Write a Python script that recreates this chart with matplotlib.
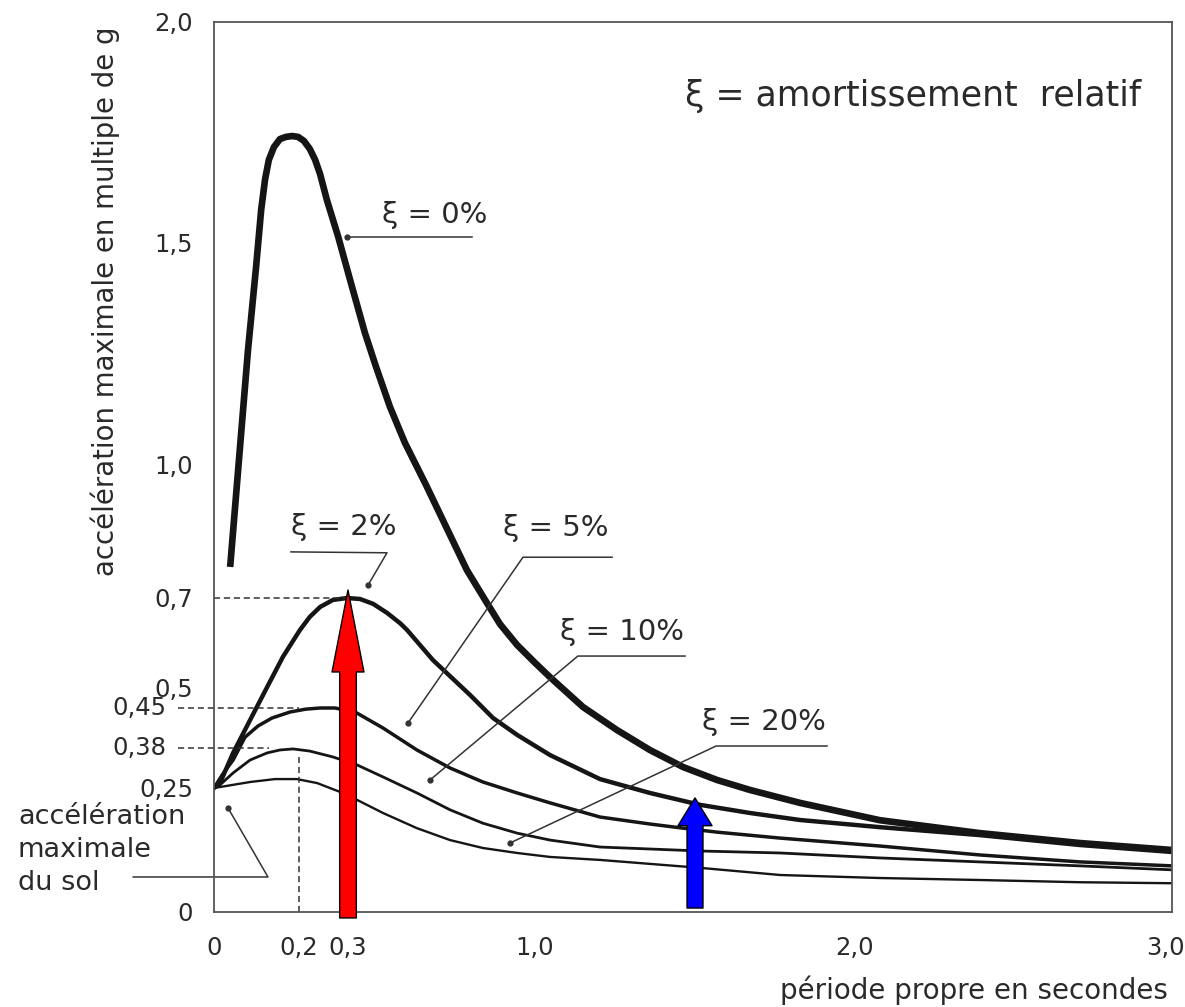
import numpy as np
import matplotlib
matplotlib.use("Agg")
import matplotlib.pyplot as plt

plt.rcParams['font.family'] = ['DejaVu Sans']

# response spectrum, period T (s) vs max acceleration (g), one curve per damping ratio
t_0 = [0.038, 0.080, 0.099, 0.111, 0.120, 0.129, 0.141, 0.155, 0.169, 0.184, 0.198, 0.210, 0.222,
       0.233, 0.243, 0.257, 0.280, 0.311, 0.3636, 0.405, 0.457, 0.513, 0.592, 0.678, 0.745, 0.820,
       0.869, 0.933, 1.0, 1.047, 1.150, 1.256, 1.359, 1.463, 1.569, 1.672, 1.828, 2.079, 2.394,
       2.710, 3.0]
a_0 = [0.770, 1.259, 1.446, 1.575, 1.643, 1.688, 1.717, 1.735, 1.740, 1.742, 1.740, 1.731, 1.713,
       1.688, 1.656, 1.597, 1.514, 1.410, 1.297, 1.221, 1.131, 1.050, 0.955, 0.847, 0.763, 0.689,
       0.642, 0.5956, 0.556, 0.524, 0.4525, 0.4115, 0.3735, 0.318, 0.276, 0.246, 0.220, 0.185, 0.159,
       0.139, 0.125]

t_2 = [0, 0.014, 0.045, 0.085, 0.125, 0.162, 0.202, 0.222, 0.243, 0.269, 0.298, 0.345, 0.394,
       0.446, 0.495, 0.521, 0.618, 0.757, 0.843, 0.933, 1.047, 1.203, 1.359, 1.516, 1.672, 1.828,
       2.079, 2.394, 2.710, 3.0]
a_2 = [0.25, 0.266, 0.364, 0.429, 0.502, 0.569, 0.629, 0.658, 0.680, 0.6956, 0.70, 0.6978, 0.687,
       0.667, 0.644, 0.629, 0.562, 0.4825, 0.4325, 0.403, 0.357, 0.279, 0.240, 0.216, 0.1996, 0.1855,
       0.171, 0.155, 0.135, 0.121]

t_5 = [0, 0.019, 0.045, 0.073, 0.1035, 0.1365, 0.179, 0.214, 0.243, 0.273, 0.3075, 0.334, 0.431,
       0.558, 0.682, 0.805, 0.933, 1.047, 1.203, 1.359, 1.463, 1.569, 1.766, 2.079, 2.394, 2.710, 3.0]
a_5 = [0.25, 0.292, 0.341, 0.399, 0.4185, 0.4325, 0.443, 0.448, 0.45, 0.45, 0.445, 0.441, 0.415,
       0.3735, 0.315, 0.2695, 0.240, 0.220, 0.1915, 0.1774, 0.169, 0.161, 0.149, 0.133, 0.115, 0.101,
       0.093]

t_10 = [0, 0.014, 0.045, 0.085, 0.125, 0.155, 0.186, 0.222, 0.269, 0.334, 0.431, 0.558, 0.682,
        0.805, 0.933, 1.047, 1.203, 1.516, 1.766, 2.079, 2.394, 2.710, 3.0]
a_10 = [0.25, 0.26, 0.299, 0.341, 0.364, 0.3735, 0.377, 0.370, 0.351, 0.325, 0.286, 0.240, 0.206,
        0.179, 0.159, 0.145, 0.131, 0.123, 0.119, 0.109, 0.101, 0.093, 0.085]

t_20 = [0, 0.085, 0.1435, 0.195, 0.237, 0.284, 0.334, 0.431, 0.558, 0.682, 0.805, 0.933, 1.047,
        1.203, 1.516, 1.766, 2.079, 2.394, 2.710, 3.0]
a_20 = [0.25, 0.2695, 0.279, 0.279, 0.266, 0.242, 0.226, 0.1996, 0.169, 0.145, 0.129, 0.119, 0.111,
        0.105, 0.089, 0.0746, 0.0685, 0.0645, 0.060, 0.058]

ref_levels = [0.7, 0.45, 0.38]       # dashed levels read on the y axis
arrow_T = [0.3, 1.5]                 # highlight arrows added on the figure
arrow_tip = [0.718, 0.23]

xtick_vals = [0, 0.2, 0.3, 1.0, 2.0]
xtick_labels = ['0', '0,2', '0,3', '1,0', '2,0']
ytick_vals = [0, 0.25, 0.5, 0.7, 1.0, 1.5, 2.0]
ytick_labels = ['0', '0,25', '0,5', '0,7', '1,0', '1,5', '2,0']

# the drawing is schematic: axes are not linear, so map values through knots
X_KNOTS = [-1.0, 0.0, 0.2, 0.3, 1.0, 2.0, 3.0, 4.0]
X_POS = [-211, 214, 299, 348, 535, 855, 1172, 1489]
Y_KNOTS = [-1.0, 0.0, 0.25, 0.38, 0.45, 0.5, 0.7, 1.0, 1.5, 2.0, 3.0]
Y_POS = [-1408, -912, -788, -748, -708, -688, -598, -465, -243, -22, 420]


def fx(v):
    return np.interp(v, X_KNOTS, X_POS)


def fx_inv(p):
    return np.interp(p, X_POS, X_KNOTS)


def fy(v):
    return np.interp(v, Y_KNOTS, Y_POS)


def fy_inv(p):
    return np.interp(p, Y_POS, Y_KNOTS)


ink = '#151515'
txt = '#2a2a2a'
tick_fs = 17.5

fig = plt.figure(figsize=(11.85, 10.07), dpi=100)
ax = fig.add_axes([214 / 1185, 1 - 912 / 1007, 958 / 1185, 890 / 1007])
ax.set_xscale('function', functions=(fx, fx_inv))
ax.set_yscale('function', functions=(fy, fy_inv))
ax.set_xlim(0, 3.0)
ax.set_ylim(0, 2.0)

for s in ax.spines.values():
    s.set_color('#555555')
    s.set_linewidth(1.3)

# curves
ax.plot(t_0, a_0, color=ink, lw=4.8, solid_capstyle='butt')
ax.plot(t_2, a_2, color=ink, lw=3.2)
ax.plot(t_5, a_5, color=ink, lw=2.5)
ax.plot(t_10, a_10, color=ink, lw=2.0)
ax.plot(t_20, a_20, color=ink, lw=1.7)

# dashed guides
dash = dict(color='#333333', lw=1.1, ls=(0, (4, 2.5)), clip_on=False)
ax.plot([0, 0.3], [ref_levels[0]] * 2, **dash)
ax.plot([-0.085, 0.2], [ref_levels[1]] * 2, **dash)
ax.plot([-0.085, 0.13], [ref_levels[2]] * 2, **dash)
ax.plot([0.2, 0.2], [0, 0.35], **dash)

# ticks
ax.set_xticks(xtick_vals, labels=xtick_labels)
ax.set_yticks(ytick_vals, labels=ytick_labels)
ax.tick_params(axis='both', which='major', length=0, labelsize=tick_fs, labelcolor=txt)
ax.tick_params(axis='x', which='major', pad=17)
ax.tick_params(axis='y', which='major', pad=15)
ax.set_xticks([1.0, 2.0], minor=True)
ax.set_yticks([0.5, 1.0, 1.5], minor=True)
ax.tick_params(axis='x', which='minor', direction='in', length=14, width=1.2,
               color='#555555', top=True, bottom=True)
ax.tick_params(axis='y', which='minor', direction='in', length=13, width=1.2,
               color='#555555', left=True, right=True)
for lv in ref_levels[1:]:
    ax.annotate(f'{lv:.2f}'.replace('.', ','), xy=(0, lv), xytext=(-34, 0),
                textcoords='offset points', ha='right', va='center',
                fontsize=tick_fs, color=txt, annotation_clip=False)
# last x label sits at the figure edge, right-aligned so it stays visible
ax.annotate('3,0', xy=(3.0, 0), xytext=(9, -17), textcoords='offset points',
            ha='right', va='top', fontsize=tick_fs, color=txt, annotation_clip=False)

# damping labels with leader lines
lead = dict(color='#333333', lw=1.1, clip_on=False)
dot = dict(marker='o', ms=3.5, color='#333333', ls='none', clip_on=False)
lab = dict(fontsize=21, color=txt, ha='left', va='center')

ax.plot([0.764, 0.298], [1.514, 1.514], **lead)
ax.plot([0.298], [1.514], **dot)
ax.text(0.427, 1.563, 'ξ = 0%', **lab)

ax.plot([0.181, 0.446, 0.375], [0.804, 0.802, 0.729], **lead)
ax.plot([0.375], [0.729], **dot)
ax.text(0.181, 0.860, 'ξ = 2%', **lab)

ax.plot([1.241, 0.955, 0.525], [0.792, 0.792, 0.424], **lead)
ax.plot([0.525], [0.424], **dot)
ax.text(0.880, 0.858, 'ξ = 5%', **lab)

ax.plot([1.469, 1.134, 0.607], [0.571, 0.571, 0.276], **lead)
ax.plot([0.607], [0.276], **dot)
ax.text(1.078, 0.624, 'ξ = 10%', **lab)

ax.plot([1.9125, 1.566, 0.906], [0.3835, 0.3835, 0.139], **lead)
ax.plot([0.906], [0.139], **dot)
ax.text(1.522, 0.4255, 'ξ = 20%', **lab)

# ground acceleration note
ax.plot([-0.19, 0.127, 0.033], [0.0706, 0.0706, 0.2097], **lead)
ax.plot([0.033], [0.2097], **dot)
fig.text(18 / 1185, 1 - 804 / 1007, 'accélération\nmaximale\ndu sol', ha='left', va='top',
         fontsize=19.5, color=txt, linespacing=1.36)

# highlight arrows
ax.annotate('', xy=(arrow_T[0], arrow_tip[0]), xytext=(arrow_T[0], -0.012),
            arrowprops=dict(arrowstyle='simple,head_length=5.9,head_width=2.3,tail_width=1.2',
                            fc='#ff0000', ec='black', lw=1.0, shrinkA=0, shrinkB=0,
                            mutation_scale=10), annotation_clip=False)
ax.annotate('', xy=(arrow_T[1], arrow_tip[1]), xytext=(arrow_T[1], 0.008),
            arrowprops=dict(arrowstyle='simple,head_length=2.0,head_width=2.45,tail_width=1.15',
                            fc='#0000ff', ec='black', lw=1.0, shrinkA=0, shrinkB=0,
                            mutation_scale=10), annotation_clip=False)

# titles
fig.text(1141 / 1185, 1 - 96 / 1007, 'ξ = amortissement  relatif', ha='right', va='center',
         fontsize=25, color=txt)
fig.text(105 / 1185, 1 - 27 / 1007, 'accélération maximale en multiple de g', rotation=90,
         ha='center', va='top', fontsize=19.9, color=txt)
fig.text(1168 / 1185, 1 - 990 / 1007, 'période propre en secondes', ha='right', va='center',
         fontsize=20, color=txt)

fig.savefig('out.png', dpi=100)
